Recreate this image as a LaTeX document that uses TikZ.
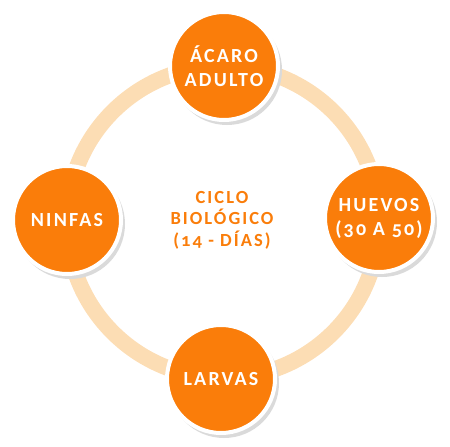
\documentclass[tikz,border=0pt]{standalone}
\usepackage{fontspec}
\setmainfont{Carlito}[LetterSpace=11,Numbers=OldStyle]
\usepackage{xcolor}
\definecolor{ringpeach}{HTML}{FCDDB4}
\definecolor{stageorange}{HTML}{FA7D0A}
\definecolor{shadowgray}{HTML}{DADADA}

\begin{document}
\begin{tikzpicture}[x=1pt, y=-1pt, every node/.style={font=\fontsize{18.5}{21.5}\selectfont\bfseries, align=center}]
\useasboundingbox (0,0) rectangle (450,447);
% ring
\coordinate (hub) at (223,222);
\draw[ringpeach, line width=16pt] (hub) circle[radius=156];
% stages
\tikzset{stage/.style={circle, fill=stageorange, draw=white, line width=4pt, minimum size=108pt, inner sep=0pt, text=white, font=\fontsize{20}{24}\selectfont\bfseries}}
\foreach \p/\name in {{(224,66)}/adulto, {(379,218)}/huevos, {(221,379)}/larvas, {(67,220)}/ninfas}
  \fill[shadowgray] \p ++(3,4) circle[radius=55];
\node[stage] (adulto) at (224,66)  {ÁCARO\\ADULTO};
\node[stage] (huevos) at (379,218) {HUEVOS\\(30 A 50)};
\node[stage] (larvas) at (221,379) {LARVAS};
\node[stage] (ninfas) at (67,220)  {NINFAS};
% centre label
\node[text=stageorange] (ciclo) at (222,220) {CICLO\\BIOLÓGICO\\(14 - DÍAS)};
\end{tikzpicture}
\end{document}
